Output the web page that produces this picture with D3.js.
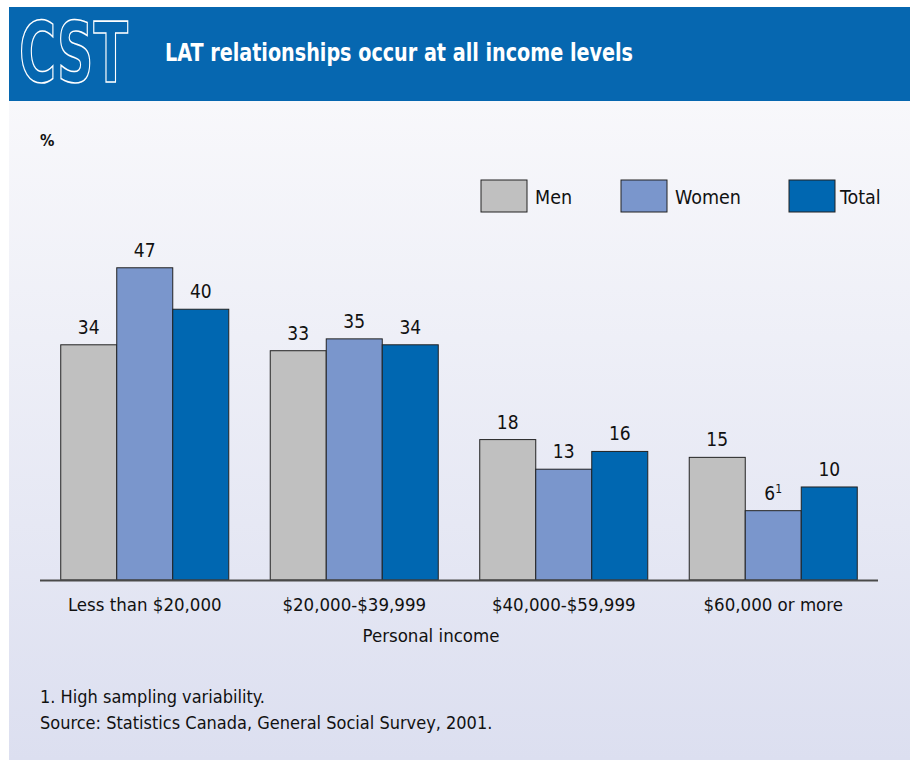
<!DOCTYPE html>
<html>
<head>
<meta charset="utf-8">
<script src="https://cdn.jsdelivr.net/npm/d3@7"></script>
<style>
  html, body { margin: 0; padding: 0; background: #ffffff; }
  svg { display: block; }
  text { font-family: 'DejaVu Sans Condensed', 'Liberation Sans Narrow', sans-serif; fill: #111; }
</style>
</head>
<body>
<script>
// Share of people in living-apart-together relationships, by personal income
const categories = ["Less than $20,000", "$20,000-$39,999", "$40,000-$59,999", "$60,000 or more"];
const seriesNames = ["Men", "Women", "Total"];
const men   = [34, 33, 18, 15];
const women = [47, 35, 13, 6];
const total = [40, 34, 16, 10];
// footnote markers attached to individual values (series index, category index)
const footnoteMarks = [{ s: 1, c: 3, mark: "1" }];
const colors = ["#c0c0c0", "#7a96cc", "#0067b1"];

const W = 910, H = 760;
const svg = d3.select("body").append("svg").attr("width", W).attr("height", H);

// background panel with soft vertical gradient
const defs = svg.append("defs");
const grad = defs.append("linearGradient").attr("id", "panelGrad")
  .attr("x1", 0).attr("y1", 0).attr("x2", 0).attr("y2", 1);
grad.append("stop").attr("offset", "0%").attr("stop-color", "#f8f8fb");
grad.append("stop").attr("offset", "100%").attr("stop-color", "#dcdff0");
svg.append("rect").attr("x", 9).attr("y", 101).attr("width", W - 9).attr("height", H - 101)
  .attr("fill", "url(#panelGrad)");

// header band
svg.append("rect").attr("x", 9).attr("y", 7).attr("width", W - 9).attr("height", 94).attr("fill", "#0667b0");
svg.append("text").attr("x", 19).attr("y", 82)
  .attr("textLength", 109).attr("lengthAdjust", "spacingAndGlyphs")
  .style("font-size", "84px").style("font-weight", "bold").style("fill", "#0667b0")
  .attr("stroke", "#ffffff").attr("stroke-width", 1.6)
  .text("CST");
svg.append("text").attr("x", 165).attr("y", 61)
  .attr("textLength", 468).attr("lengthAdjust", "spacingAndGlyphs")
  .style("font-size", "24px").style("font-weight", "bold").style("fill", "#ffffff")
  .text("LAT relationships occur at all income levels");

// unit label
svg.append("text").attr("x", 40).attr("y", 146)
  .style("font-size", "16px").style("font-weight", "bold").text("%");

// scales
const x0 = d3.scaleBand().domain(categories).range([40, 878]).paddingInner(0.198).paddingOuter(0.099);
const x1 = d3.scaleBand().domain(seriesNames).range([0, x0.bandwidth()]);
const yMin = -5.7, yMax = 50;
const y = d3.scaleLinear().domain([yMin, yMax]).range([580, 250]);

const data = categories.map((c, i) => ({
  category: c,
  values: [men[i], women[i], total[i]].map((v, s) => ({ series: seriesNames[s], s, c: i, value: v }))
}));

const groups = svg.append("g").selectAll("g").data(data).join("g")
  .attr("transform", d => `translate(${x0(d.category)},0)`);

groups.selectAll("rect").data(d => d.values).join("rect")
  .attr("x", d => x1(d.series))
  .attr("y", d => y(d.value))
  .attr("width", x1.bandwidth())
  .attr("height", d => y(yMin) - y(d.value))
  .attr("fill", d => colors[d.s])
  .attr("stroke", "#222")
  .attr("stroke-width", 1);

// value labels
const labels = groups.selectAll("text.val").data(d => d.values).join("text")
  .attr("class", "val")
  .attr("x", d => x1(d.series) + x1.bandwidth() / 2)
  .attr("y", d => y(d.value) - 11)
  .attr("text-anchor", "middle")
  .style("font-size", "19px");
labels.each(function(d) {
  const t = d3.select(this);
  t.append("tspan").text(d.value);
  const fm = footnoteMarks.find(m => m.s === d.s && m.c === d.c);
  if (fm) t.append("tspan").attr("dy", -7).style("font-size", "12px").text(fm.mark);
});

// baseline
svg.append("line").attr("x1", 40).attr("x2", 878).attr("y1", 580.5).attr("y2", 580.5)
  .attr("stroke", "#4a4a4a").attr("stroke-width", 2);

// category axis
const xAxis = d3.axisBottom(x0).tickSize(0).tickPadding(0);
const gx = svg.append("g").attr("transform", "translate(0,580)").call(xAxis);
gx.select(".domain").remove();
gx.selectAll("text").attr("y", 31).attr("dy", 0)
  .style("font-size", "18.5px").style("fill", "#111")
  .style("font-family", "'DejaVu Sans Condensed', 'Liberation Sans Narrow', sans-serif");

svg.append("text").attr("x", 431).attr("y", 642).attr("text-anchor", "middle")
  .style("font-size", "18.5px").text("Personal income");

// legend
const legend = svg.append("g").selectAll("g").data(seriesNames).join("g")
  .attr("transform", (d, i) => `translate(${[481, 621, 789][i]},180)`);
legend.append("rect").attr("width", 46).attr("height", 32)
  .attr("fill", (d, i) => colors[i]).attr("stroke", "#222").attr("stroke-width", 1);
legend.append("text").attr("x", (d, i) => [54, 54, 51][i]).attr("y", 24)
  .style("font-size", "19.5px").text(d => d);

// notes
svg.append("text").attr("x", 40).attr("y", 703).style("font-size", "18px").text("1. High sampling variability.");
svg.append("text").attr("x", 40).attr("y", 729).style("font-size", "18px").text("Source: Statistics Canada, General Social Survey, 2001.");
</script>
</body>
</html>
